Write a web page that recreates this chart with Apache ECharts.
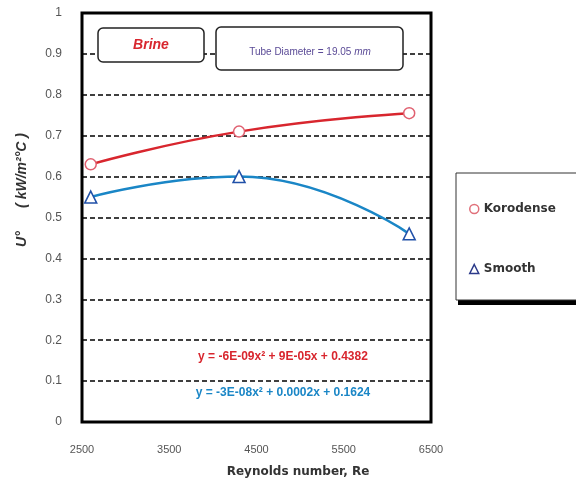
<!DOCTYPE html>
<html>
<head>
<meta charset="utf-8">
<script src="https://cdn.jsdelivr.net/npm/echarts@6/dist/echarts.min.js"></script>
<style>
  html, body { margin: 0; padding: 0; background: #fff; }
  #chart { width: 576px; height: 482px; }
</style>
</head>
<body>
<div id="chart"></div>
<script>
const reKorodense = [2600, 4300, 6250]
const uKorodense = [0.63, 0.71, 0.755]
const reSmooth = [2600, 4300, 6250]
const uSmooth = [0.55, 0.60, 0.46]

const xTicks = [2500, 3500, 4500, 5500, 6500]
const yMin = 0
const yMax = 1

const eqKorodense = 'y = -6E-09x² + 9E-05x + 0.4382'
const eqSmooth = 'y = -3E-08x² + 0.0002x + 0.1624'

const red = '#d8262e'
const blue = '#1a86c6'

const pairs = (xs, ys) => xs.map((x, i) => [x, ys[i]])

const chart = echarts.init(document.getElementById('chart'))

chart.setOption({
  animation: false,
  textStyle: { fontFamily: 'Liberation Sans, Arial, sans-serif' },
  grid: {
    left: 82,
    right: 145,
    top: 13,
    bottom: 60,
    show: true,
    borderColor: '#000',
    borderWidth: 3
  },
  xAxis: {
    type: 'value',
    min: xTicks[0],
    max: xTicks[xTicks.length - 1],
    interval: 1000,
    axisLine: { show: false },
    axisTick: { show: false },
    splitLine: { show: false },
    axisLabel: { color: '#555', fontSize: 11, margin: 22, formatter: v => String(v) }
  },
  yAxis: {
    type: 'value',
    min: yMin,
    max: yMax,
    interval: 0.1,
    axisLine: { show: false },
    axisTick: { show: false },
    splitLine: {
      show: true,
      lineStyle: { color: '#000', width: 1.5, type: [5, 3] }
    },
    axisLabel: { color: '#555', fontSize: 12, margin: 20 }
  },
  legend: {
    orient: 'vertical',
    left: 464,
    top: 198,
    itemGap: 48,
    itemWidth: 9,
    itemHeight: 9,
    textStyle: { color: '#333', fontSize: 12, fontWeight: 'bold', fontFamily: 'DejaVu Sans' },
    data: [
      { name: 'Korodense', icon: 'circle', itemStyle: { color: '#fff', borderColor: '#e0707a', borderWidth: 1.5 } },
      { name: 'Smooth', icon: 'triangle', itemStyle: { color: '#fff', borderColor: '#2b3a8a', borderWidth: 1.5 } }
    ],
    z: 110
  },
  series: [
    {
      name: 'Korodense',
      type: 'line',
      smooth: 0.5,
      data: pairs(reKorodense, uKorodense),
      symbol: 'circle',
      symbolSize: 11,
      lineStyle: { color: red, width: 2.5 },
      itemStyle: { color: '#fff', borderColor: '#e06070', borderWidth: 1.5 },
      z: 5
    },
    {
      name: 'Smooth',
      type: 'line',
      smooth: 0.5,
      data: pairs(reSmooth, uSmooth),
      symbol: 'triangle',
      symbolSize: 12,
      lineStyle: { color: blue, width: 2.5 },
      itemStyle: { color: '#fff', borderColor: '#2050a8', borderWidth: 1.5 },
      z: 5
    }
  ],
  graphic: [
    // axis titles
    {
      type: 'text',
      z: 101,
      x: 22,
      y: 190,
      rotation: Math.PI / 2,
      style: {
        text: 'U°      ( kW/m²°C )',
        fill: '#333',
        fontSize: 14,
        fontWeight: 'bold',
        fontStyle: 'italic',
        align: 'center',
        verticalAlign: 'middle'
      }
    },
    {
      type: 'text',
      z: 101,
      x: 298,
      y: 472,
      style: {
        text: 'Reynolds number, Re',
        fill: '#333',
        fontSize: 12,
        fontWeight: 'bold',
        fontFamily: 'DejaVu Sans',
        align: 'center',
        verticalAlign: 'middle'
      }
    },
    // legend frame running off the right edge, with its drop shadow
    {
      type: 'rect',
      z: 99,
      shape: { x: 458, y: 178, width: 140, height: 127 },
      style: { fill: '#000' }
    },
    {
      type: 'rect',
      z: 100,
      shape: { x: 456, y: 173, width: 140, height: 127 },
      style: { fill: '#fff', stroke: '#333', lineWidth: 1 }
    },
    {
      type: 'rect',
      z: 100,
      shape: { x: 98, y: 28, width: 106, height: 34, r: 5 },
      style: { fill: '#fff', stroke: '#222', lineWidth: 1.5 }
    },
    {
      type: 'text',
      z: 101,
      x: 151,
      y: 45,
      style: { text: 'Brine', fill: red, fontSize: 14, fontWeight: 'bold', fontStyle: 'italic', align: 'center', verticalAlign: 'middle' }
    },
    {
      type: 'rect',
      z: 100,
      shape: { x: 216, y: 27, width: 187, height: 43, r: 5 },
      style: { fill: '#fff', stroke: '#222', lineWidth: 1.5 }
    },
    {
      type: 'text',
      z: 101,
      x: 310,
      y: 52,
      style: {
        text: '{a|Tube Diameter = 19.05 }{b|mm}',
        align: 'center',
        verticalAlign: 'middle',
        rich: {
          a: { fill: '#5a4a96', fontSize: 10 },
          b: { fill: '#5a4a96', fontSize: 10, fontStyle: 'italic' }
        }
      }
    },
    {
      type: 'text',
      z: 101,
      x: 283,
      y: 357,
      style: { text: eqKorodense, fill: red, fontSize: 12, fontWeight: 'bold', align: 'center', verticalAlign: 'middle' }
    },
    {
      type: 'text',
      z: 101,
      x: 283,
      y: 393,
      style: { text: eqSmooth, fill: blue, fontSize: 12, fontWeight: 'bold', align: 'center', verticalAlign: 'middle' }
    }
  ]
})
</script>
</body>
</html>
